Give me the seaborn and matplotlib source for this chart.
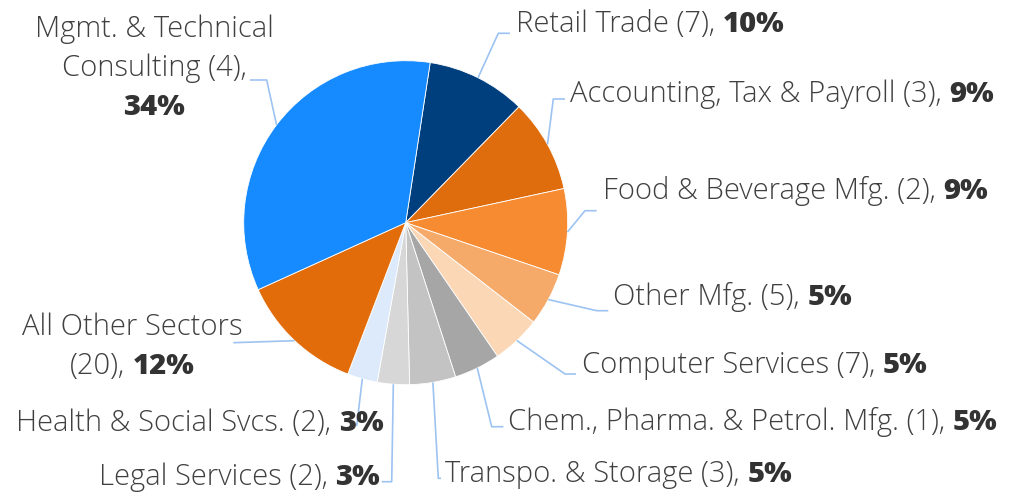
import numpy as np
import matplotlib
matplotlib.use("Agg")
import matplotlib.pyplot as plt
import seaborn as sns

# Canvas size in pixels (axes are mapped 1:1 onto pixels)
W, H = 1012, 492

# Data
sectors = [
    "Retail Trade",
    "Accounting, Tax & Payroll",
    "Food & Beverage Mfg.",
    "Other Mfg.",
    "Computer Services",
    "Chem., Pharma. & Petrol. Mfg.",
    "Transpo. & Storage",
    "Legal Services",
    "Health & Social Svcs.",
    "All Other Sectors",
    "Mgmt. & Technical Consulting",
]
counts = [7, 3, 2, 5, 7, 1, 3, 2, 2, 20, 4]
shares = [9.9, 9.3, 8.6, 5.3, 4.9, 4.6, 4.6, 3.2, 3.0, 12.4, 34.2]

colors = [
    "#003F7D", "#E06D0D", "#F68B31", "#F5AA69", "#FBD7B6", "#A6A6A6",
    "#C3C3C3", "#D7D7D7", "#DCEAFB", "#E36C0A", "#168BFF",
]

# Label layout (image pixel coords, y measured from the top)
label_pos = [
    (516, 32.3), (570, 101.7), (602.7, 199.3), (613.3, 305), (581.7, 373.3),
    (508.3, 430), (445, 481.7), (380, 485), (383.3, 430.7), (132.3, 335),
    (154, 37.3),
]
label_ha = ["left"] * 7 + ["right", "right", "center", "center"]
leader_knees = [
    [(498.3, 33.3), (510, 33.3)],
    [(553.3, 99), (565, 99)],
    [(585, 210.7), (596.7, 210.7)],
    [(596.7, 310.7), (608.3, 310.7)],
    [(565, 374), (576, 374)],
    [(491.7, 426.7), (503.3, 426.7)],
    [(438.3, 478.3), (441, 478.3)],
    [(391.7, 481.7), (381.7, 481.7)],
    [(356.7, 426)],
    [(233.3, 342.7)],
    [(266.7, 80), (250, 80)],
]
wrap_names = {"Mgmt. & Technical Consulting": "Mgmt. & Technical\nConsulting"}
pct_newline = {"Mgmt. & Technical Consulting"}
name_newline = {"All Other Sectors"}

PIE_CENTER = (405.7, 222.7)
PIE_R = 162
FS = 21
LINE_STEP = 39
TEXT_COLOR = "#404040"
PCT_COLOR = "#333333"
LEADER_COLOR = "#9DC3F2"

sns.set_theme(style="white")
plt.rcParams["font.family"] = ["Open Sans", "DejaVu Sans"]


def img(x, y):
    return x, H - y


fig = plt.figure(figsize=(W / 100, H / 100), dpi=100)
ax = fig.add_axes([0, 0, 1, 1])

wedges, _ = ax.pie(
    shares,
    colors=colors,
    startangle=90 - 8.7,
    counterclock=False,
    center=img(*PIE_CENTER),
    radius=PIE_R,
    wedgeprops=dict(edgecolor="white", linewidth=0.6),
)
ax.set_xlim(0, W)
ax.set_ylim(0, H)
ax.set_aspect("auto")
ax.axis("off")

renderer = fig.canvas.get_renderer()
space_px = 0.26 * FS * 100 / 72


def text_width(s, weight):
    t = ax.text(0, 0, s, fontsize=FS, fontweight=weight)
    w = t.get_window_extent(renderer).width
    t.remove()
    return w


def draw_line(pieces, x, y, ha):
    # pieces: list of (text, weight), drawn side by side on one baseline
    widths = [text_width(s, wt) for s, wt in pieces]
    total = sum(widths) + space_px * (len(pieces) - 1)
    if ha == "left":
        x0 = x
    elif ha == "right":
        x0 = x - total
    else:
        x0 = x - total / 2
    for (s, wt), w in zip(pieces, widths):
        ax.text(x0, H - y, s, fontsize=FS, fontweight=wt, va="baseline",
                ha="left", color=PCT_COLOR if wt == "heavy" else TEXT_COLOR,
                zorder=5)
        x0 += w + space_px


for i, (name, n, share) in enumerate(zip(sectors, counts, shares)):
    pct = f"{round(share)}%"
    shown = wrap_names.get(name, name)
    lines = shown.split("\n")
    if name in pct_newline:
        rows = [[(l, "light")] for l in lines[:-1]]
        rows.append([(f"{lines[-1]} ({n}),", "light")])
        rows.append([(pct, "heavy")])
    elif name in name_newline:
        rows = [[(name, "light")], [(f"({n}),", "light"), (pct, "heavy")]]
    else:
        rows = [[(f"{name} ({n}),", "light"), (pct, "heavy")]]
    x, y = label_pos[i]
    for k, row in enumerate(rows):
        draw_line(row, x, y + k * LINE_STEP, label_ha[i])

    # leader line from the middle of the wedge edge
    w = wedges[i]
    mid = np.deg2rad((w.theta1 + w.theta2) / 2)
    cx, cy = img(*PIE_CENTER)
    xs = [cx + PIE_R * np.cos(mid)] + [p[0] for p in leader_knees[i]]
    ys = [cy + PIE_R * np.sin(mid)] + [H - p[1] for p in leader_knees[i]]
    ax.plot(xs, ys, color=LEADER_COLOR, lw=1.2, zorder=2,
            solid_capstyle="butt")

fig.savefig("out.png", dpi=100)
